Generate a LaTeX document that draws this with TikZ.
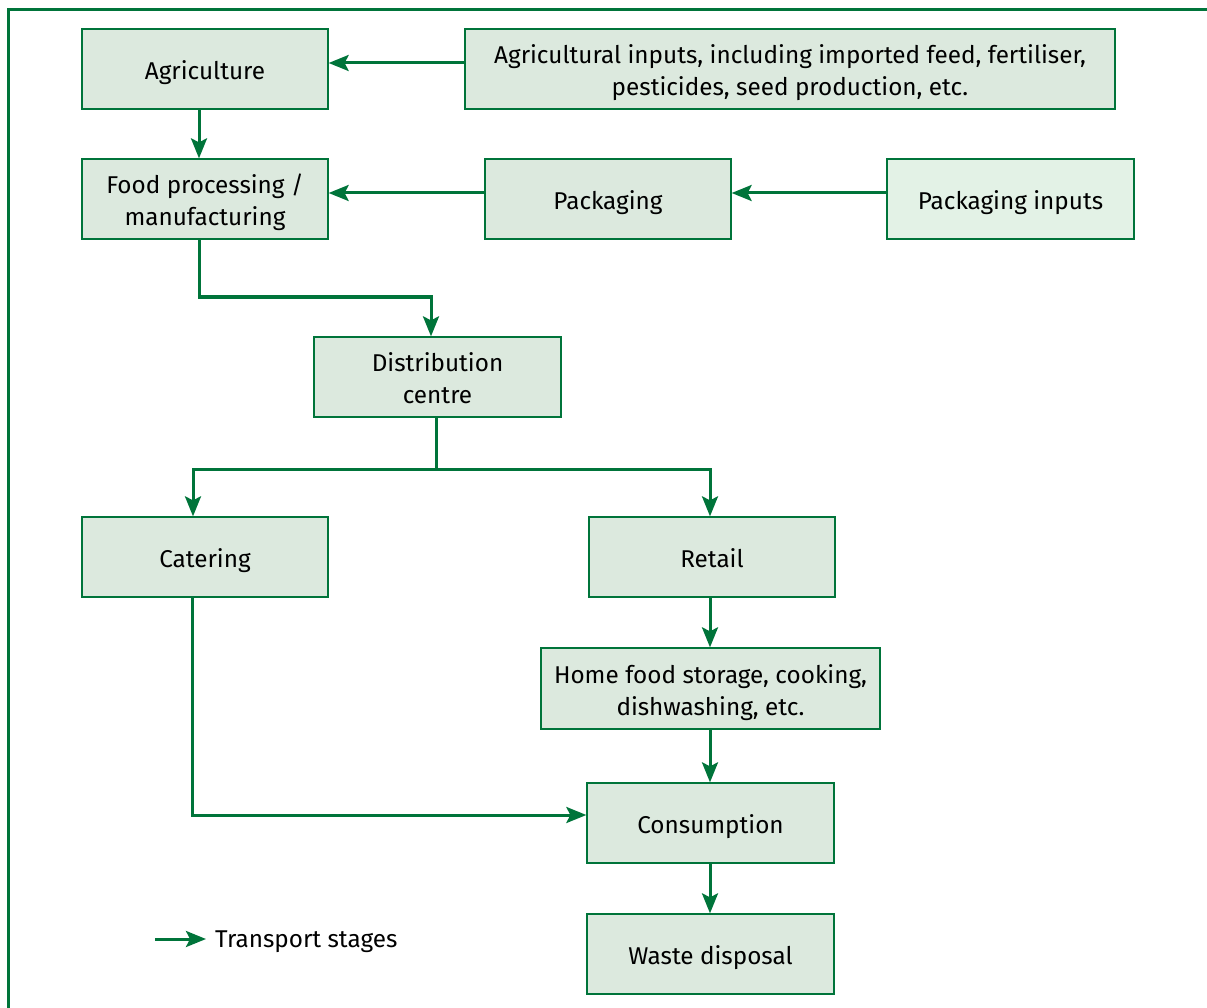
\documentclass[tikz,border=0pt]{standalone}
\usepackage{fontspec}
\setmainfont{Fira Sans}
\usetikzlibrary{arrows.meta}
\definecolor{dg}{HTML}{00743A}
\definecolor{boxfill}{HTML}{DCE9DE}
\definecolor{boxfilltwo}{HTML}{E3F2E6}
\newcommand{\boxtext}[1]{\raisebox{-4.5pt}[\height][\depth]{\begin{tabular}{@{}c@{}}#1\end{tabular}}}
\begin{document}
\begin{tikzpicture}[x=1pt,y=-1pt,
  stagebox/.style={draw=dg,line width=1.3pt,fill=boxfill,minimum height=80pt,inner sep=0pt,align=center,font=\fontsize{24.3}{32}\selectfont,text=black},
  conn/.style={draw=dg,line width=3pt,-{Stealth[length=20pt,width=16pt,inset=4pt]}},
]
\useasboundingbox (0,0) rectangle (1207,1008);
\draw[dg,line width=3.2pt] (8.5,9.5) rectangle (1220,1020);
\node[stagebox,minimum width=246pt] (agri) at (205,69) {\boxtext{Agriculture}};
\node[stagebox,minimum width=650pt] (inputs) at (790,69) {\boxtext{Agricultural inputs, including imported feed, fertiliser,\\pesticides, seed production, etc.}};
\node[stagebox,minimum width=246pt] (food) at (205,199) {\boxtext{Food processing /\\manufacturing}};
\node[stagebox,minimum width=246pt] (pack) at (608,199) {\boxtext{Packaging}};
\node[stagebox,minimum width=247pt,fill=boxfilltwo] (packin) at (1010.5,199) {\boxtext{Packaging inputs}};
\node[stagebox,minimum width=247pt] (dist) at (437.5,377) {\boxtext{Distribution\\centre}};
\node[stagebox,minimum width=246pt] (cater) at (205,557) {\boxtext{Catering}};
\node[stagebox,minimum width=246pt] (retail) at (712,557) {\boxtext{Retail}};
\node[stagebox,minimum width=339pt,minimum height=81pt] (home) at (710.5,688.5) {\boxtext{Home food storage, cooking,\\dishwashing, etc.}};
\node[stagebox,minimum width=247pt] (cons) at (710.5,823) {\boxtext{Consumption}};
\node[stagebox,minimum width=247pt] (waste) at (710.5,954) {\boxtext{Waste disposal}};
\coordinate (l1) at (155,939);
\coordinate (l2) at (206,939);
\node[anchor=base west,inner sep=0pt,font=\fontsize{24.3}{30}\selectfont] (legend) at (215,947) {Transport stages};

\draw[conn] (inputs.west |- 0,63) -- (agri.east |- 0,63);
\draw[conn] (agri.south -| 199,0) -- (food.north -| 199,0);
\draw[conn] (pack.west |- 0,193) -- (food.east |- 0,193);
\draw[conn] (packin.west |- 0,193) -- (pack.east |- 0,193);
\draw[conn] (food.south -| 199,0) -- (199,297) -- (431,297) -- (dist.north -| 431,0);
\draw[conn] (dist.south -| 436,0) -- (436,469) -- (193,469) -- (cater.north -| 193,0);
\draw[conn] (436,469) -- (710,469) -- (retail.north -| 710,0);
\draw[conn] (retail.south -| 710,0) -- (home.north -| 710,0);
\draw[conn] (home.south -| 710,0) -- (cons.north -| 710,0);
\draw[conn] (cater.south -| 192,0) -- (192,815) -- (cons.west |- 0,815);
\draw[conn] (cons.south -| 710,0) -- (waste.north -| 710,0);
\draw[conn] (l1) -- (l2);
\end{tikzpicture}
\end{document}
